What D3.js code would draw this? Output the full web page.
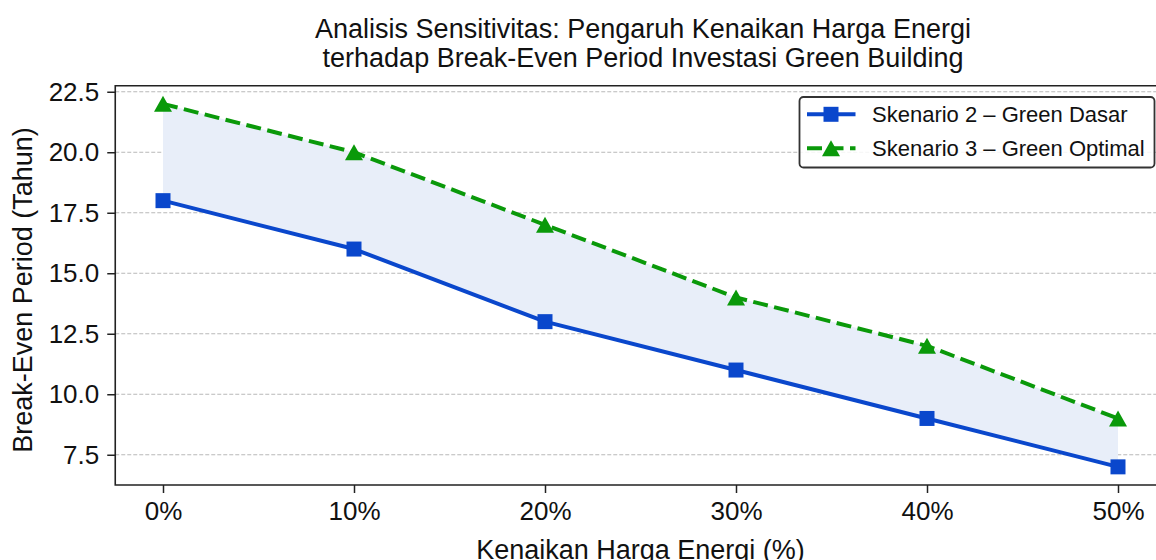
<!DOCTYPE html>
<html>
<head>
<meta charset="utf-8">
<script src="https://cdn.jsdelivr.net/npm/d3@7"></script>
<style>
    html, body { margin: 0; padding: 0; background: #fff; }
    svg { display: block; font-family: "Liberation Sans", Arial, sans-serif; }
</style>
</head>
<body>
<div id="chart"></div>
<script>
//Datos
const kenaikan = ['0%', '10%', '20%', '30%', '40%', '50%'];
const skenario2 = [18, 16, 13, 11, 9, 7];
const skenario3 = [22, 20, 17, 14, 12, 9];
const yTicks = [7.5, 10.0, 12.5, 15.0, 17.5, 20.0, 22.5];
const namaSeri = ['Skenario 2 \u2013 Green Dasar', 'Skenario 3 \u2013 Green Optimal'];
const judul = ['Analisis Sensitivitas: Pengaruh Kenaikan Harga Energi', 'terhadap Break-Even Period Investasi Green Building'];

//Colores fijos
const COLOR_BLUE = '#0a47cc',
COLOR_GREEN = '#0a990a',
COLOR_FILL = '#e8eef9';

let width = 1156, height = 560;
let margin = {top: 85.7, left: 115.25, right: width - 1165.75, bottom: height - 485};

let svg = d3.select('#chart')
    .append('svg')
    .attr('width', width)
    .attr('height', height);

let data = kenaikan.map(function(k, i) { return {k: k, i: i, s2: skenario2[i], s3: skenario3[i]}; });

let x = d3.scaleLinear()
    .domain([-0.25, kenaikan.length - 0.75])
    .range([margin.left, width - margin.right]);

let y = d3.scaleLinear()
    .domain([6.25, 22.75])
    .range([height - margin.bottom, margin.top]);

let plot = svg.append('g');

//Grid
plot.append('g')
    .selectAll('line')
    .data(yTicks)
    .enter()
    .append('line')
    .attr('x1', x.range()[0])
    .attr('x2', x.range()[1])
    .attr('y1', function(d) { return y(d); })
    .attr('y2', function(d) { return y(d); })
    .attr('stroke', '#b8b8b8')
    .attr('stroke-width', 1)
    .attr('stroke-dasharray', '4,2');

//Area entre escenarios
let area = d3.area()
    .x(function(d) { return x(d.i); })
    .y0(function(d) { return y(d.s2); })
    .y1(function(d) { return y(d.s3); });

plot.append('path')
    .datum(data)
    .attr('d', area)
    .attr('fill', COLOR_FILL);

//Lineas
let line2 = d3.line().x(function(d) { return x(d.i); }).y(function(d) { return y(d.s2); });
let line3 = d3.line().x(function(d) { return x(d.i); }).y(function(d) { return y(d.s3); });

plot.append('path')
    .datum(data)
    .attr('d', line2)
    .attr('fill', 'none')
    .attr('stroke', COLOR_BLUE)
    .attr('stroke-width', 4)
    .attr('stroke-linejoin', 'round');

plot.append('path')
    .datum(data)
    .attr('d', line3)
    .attr('fill', 'none')
    .attr('stroke', COLOR_GREEN)
    .attr('stroke-width', 4)
    .attr('stroke-dasharray', '15,6.5');

let square = d3.symbol().type(d3.symbolSquare).size(15 * 15);

function triangle(cx, cy, w, h) {
    return 'M' + cx + ',' + (cy - h / 2) + 'L' + (cx + w / 2) + ',' + (cy + h / 2) + 'L' + (cx - w / 2) + ',' + (cy + h / 2) + 'Z';
}

plot.append('g')
    .selectAll('path')
    .data(data)
    .enter()
    .append('path')
    .attr('d', square)
    .attr('transform', function(d) { return 'translate(' + x(d.i) + ',' + y(d.s2) + ')'; })
    .attr('fill', COLOR_BLUE);

plot.append('g')
    .selectAll('path')
    .data(data)
    .enter()
    .append('path')
    .attr('d', function(d) { return triangle(x(d.i), y(d.s3), 18, 16); })
    .attr('fill', COLOR_GREEN);

//Ejes
let xAxis = svg.append('g')
    .attr('transform', 'translate(0,' + y.range()[0] + ')')
    .call(d3.axisBottom(x).tickValues(d3.range(kenaikan.length)).tickFormat(function(d) { return kenaikan[d]; }).tickSize(8).tickPadding(9));

let yAxis = svg.append('g')
    .attr('transform', 'translate(' + x.range()[0] + ',0)')
    .call(d3.axisLeft(y).tickValues(yTicks).tickFormat(d3.format('.1f')).tickSize(8).tickPadding(8));

[xAxis, yAxis].forEach(function(g) {
    g.select('.domain').remove();
    g.selectAll('.tick line').attr('stroke', '#222').attr('stroke-width', 1.5);
    g.selectAll('.tick text').attr('fill', '#111').style('font-size', '26px').style('font-family', '"Liberation Sans", Arial, sans-serif');
});

//Marco
svg.append('path')
    .attr('d', 'M' + x.range()[1] + ',' + y.range()[1] + 'H' + x.range()[0] + 'V' + y.range()[0] + 'H' + x.range()[1])
    .attr('fill', 'none')
    .attr('stroke', '#222')
    .attr('stroke-width', 1.6);

//Titulo
svg.append('g')
    .selectAll('text')
    .data(judul)
    .enter()
    .append('text')
    .attr('x', 643)
    .attr('y', function(d, i) { return 38 + i * 28.5; })
    .attr('text-anchor', 'middle')
    .style('font-size', '27px')
    .attr('fill', '#111')
    .text(function(d) { return d; });

//Etiquetas de ejes
svg.append('text')
    .attr('x', (x.range()[0] + x.range()[1]) / 2)
    .attr('y', 558.5)
    .attr('text-anchor', 'middle')
    .style('font-size', '27px')
    .attr('fill', '#111')
    .text('Kenaikan Harga Energi (%)');

svg.append('text')
    .attr('transform', 'translate(32,290) rotate(-90)')
    .attr('text-anchor', 'middle')
    .style('font-size', '27px')
    .attr('fill', '#111')
    .text('Break-Even Period (Tahun)');

//Leyenda
let legend = svg.append('g');

legend.append('rect')
    .attr('x', 799.5)
    .attr('y', 97)
    .attr('width', 355)
    .attr('height', 70.5)
    .attr('rx', 4)
    .attr('fill', '#fff')
    .attr('fill-opacity', 0.85)
    .attr('stroke', '#333')
    .attr('stroke-width', 1.8);

let rows = legend.selectAll('.row')
    .data(namaSeri)
    .enter()
    .append('g')
    .attr('class', 'row')
    .attr('transform', function(d, i) { return 'translate(0,' + (114.3 + i * 34) + ')'; });

rows.append('line')
    .attr('x1', 807)
    .attr('x2', 855.5)
    .attr('stroke', function(d, i) { return i == 0 ? COLOR_BLUE : COLOR_GREEN; })
    .attr('stroke-width', 4)
    .attr('stroke-dasharray', function(d, i) { return i == 0 ? null : '15,6.5'; });

rows.append('path')
    .attr('d', function(d, i) { return i == 0 ? square() : triangle(0, 0, 18, 16); })
    .attr('transform', 'translate(831,0)')
    .attr('fill', function(d, i) { return i == 0 ? COLOR_BLUE : COLOR_GREEN; });

rows.append('text')
    .attr('x', 872)
    .attr('y', 7.8)
    .style('font-size', '22px')
    .attr('fill', '#111')
    .text(function(d) { return d; });
</script>
</body>
</html>
